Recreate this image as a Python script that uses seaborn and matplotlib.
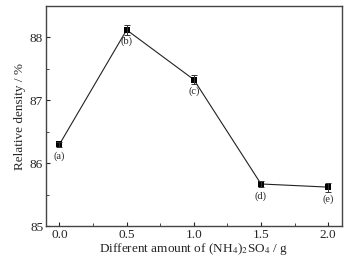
import numpy as np
import pandas as pd
import matplotlib
matplotlib.use('Agg')
import matplotlib.pyplot as plt
import seaborn as sns
from matplotlib.ticker import MultipleLocator

# values
amount = [0.0, 0.5, 1.0, 1.5, 2.0]
density = [86.30, 88.12, 87.33, 85.67, 85.62]
err = [0.04, 0.08, 0.07, 0.05, 0.07]
tags = ['(a)', '(b)', '(c)', '(d)', '(e)']

df = pd.DataFrame({'amount': amount, 'density': density})

sns.set_style('ticks')
plt.rcParams['font.family'] = ['Liberation Serif', 'DejaVu Serif']
plt.rcParams['mathtext.fontset'] = 'stix'

fig, ax = plt.subplots(figsize=(3.54, 2.62), dpi=100)
sns.lineplot(data=df, x='amount', y='density', ax=ax, color='#222222',
             linewidth=0.8, marker='s', markersize=4.5, markeredgewidth=0,
             markerfacecolor='black')
ax.errorbar(amount, density, yerr=err, fmt='none', ecolor='#333333',
            elinewidth=0.7, capsize=2, capthick=0.7)

for x, y, t in zip(amount, density, tags):
    ax.annotate(t, (x, y), xytext=(0, -5), textcoords='offset points',
                ha='center', va='top', fontsize=7.5)

ax.set_xlim(-0.1, 2.1)
ax.set_ylim(85, 88.5)
ax.xaxis.set_major_locator(MultipleLocator(0.5))
ax.xaxis.set_minor_locator(MultipleLocator(0.25))
ax.yaxis.set_major_locator(MultipleLocator(1))
ax.yaxis.set_minor_locator(MultipleLocator(0.5))
ax.tick_params(which='both', direction='in', labelsize=9.5, pad=2)
ax.tick_params(which='major', length=3, width=0.8)
ax.tick_params(which='minor', length=2, width=0.6)
for s in ax.spines.values():
    s.set_visible(True)
    s.set_linewidth(1.0)
    s.set_color('#444444')

ax.set_xlabel(r'Different amount of (NH$_4$)$_2$SO$_4$ / g', fontsize=9.5, labelpad=0)
ax.set_ylabel('Relative density / %', fontsize=9.5, labelpad=3)

fig.subplots_adjust(left=0.13, right=0.965, top=0.977, bottom=0.137)
fig.savefig('out.png', dpi=100)
